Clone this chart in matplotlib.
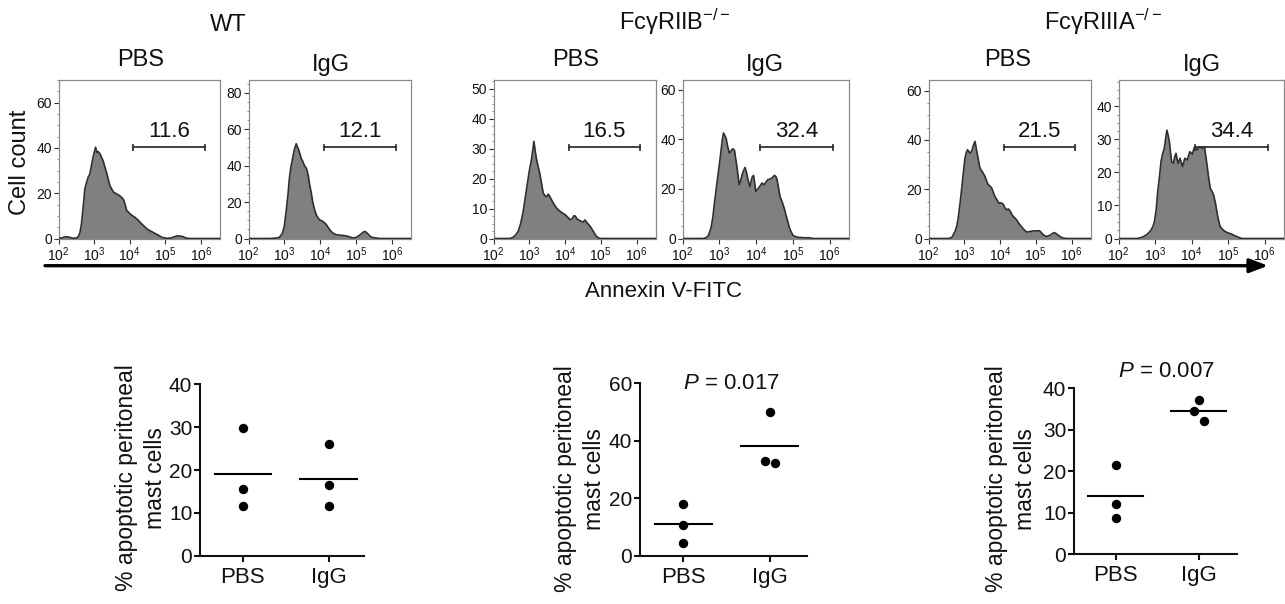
import matplotlib
matplotlib.use('Agg')
import matplotlib.pyplot as plt
import numpy as np
from matplotlib.ticker import FixedLocator, FixedFormatter, LogLocator, NullFormatter, MultipleLocator, AutoMinorLocator
from matplotlib.transforms import blended_transform_factory, offset_copy
from matplotlib.patches import FancyArrowPatch

plt.rcParams['font.family'] = ['Liberation Sans', 'DejaVu Sans']
plt.rcParams['mathtext.fontset'] = 'custom'
plt.rcParams['mathtext.rm'] = 'Liberation Sans'
plt.rcParams['mathtext.it'] = 'Liberation Sans:italic'
plt.rcParams['mathtext.bf'] = 'Liberation Sans:bold'

# ---------------- data ----------------
genotypes = ['WT', 'Fc\u03b3RIIB$^{\u2212/\u2212}$', 'Fc\u03b3RIIIA$^{\u2212/\u2212}$']
treatments = ['PBS', 'IgG']
decade_labels = [r'$10^{2}$', r'$10^{3}$', r'$10^{4}$', r'$10^{5}$', r'$10^{6}$']
decades = [1e2, 1e3, 1e4, 1e5, 1e6]

# histogram curves: (log10 Annexin V-FITC, cell count)
wt_pbs_hist = [(2.0,0),(2.1,0.3),(2.2,0.8),(2.3,0.6),(2.4,0.1),(2.5,0.2),(2.55,0.7),(2.6,2.5),(2.64,6),
    (2.7,15),(2.74,22),(2.8,25.5),(2.83,27),(2.88,28.5),(2.91,31),(2.97,36),(3.04,40.3),(3.08,38),(3.11,38.4),
    (3.16,37.5),(3.25,34.4),(3.35,29),(3.44,23.4),(3.54,20.5),(3.62,19.8),(3.68,19.3),(3.76,18.3),(3.82,17.3),
    (3.87,15),(3.91,12.5),(4.0,11),(4.05,10.3),(4.15,9.3),(4.24,8),(4.33,6.5),(4.43,5),(4.52,3.8),(4.62,3),
    (4.71,2.2),(4.80,1.5),(4.88,0.7),(4.95,0.3),(5.05,0.1),(5.15,0.2),(5.25,0.8),(5.32,1.1),(5.4,1.1),
    (5.48,0.9),(5.56,0.3),(5.65,0),(6.55,0)]
wt_igg_hist = [(2.0,0),(2.6,0),(2.75,0.2),(2.86,0.6),(2.95,3),(3.0,7),(3.05,15),(3.1,24),(3.14,33),(3.18,39),
    (3.23,44),(3.28,49),(3.33,52),(3.37,50),(3.40,48.6),(3.44,46),(3.47,44),(3.52,42),(3.56,40),(3.60,39),
    (3.63,37.6),(3.67,34),(3.70,30),(3.75,25),(3.79,20),(3.84,16),(3.89,13),(3.94,11.2),(3.98,10.3),(4.07,9.4),
    (4.12,8.6),(4.17,7.6),(4.23,5.8),(4.30,3.9),(4.37,2.8),(4.44,2.1),(4.55,1.8),(4.63,1.7),(4.70,1.5),
    (4.77,1.2),(4.85,0.7),(4.91,0.3),(5.0,0.6),(5.07,1.4),(5.14,2.5),(5.2,3.5),(5.24,3.9),(5.28,3.4),
    (5.33,2.5),(5.38,1.5),(5.42,0.8),(5.5,0.4),(5.56,0.3),(5.65,0),(6.55,0)]
riib_pbs_hist = [(2.0,0),(2.45,0),(2.55,0.4),(2.62,1.2),(2.69,2.4),(2.76,5),(2.83,9),(2.88,13),(2.93,17),
    (3.0,22.5),(3.07,27),(3.13,32.5),(3.17,29),(3.21,26),(3.26,23.5),(3.30,21.4),(3.35,18),(3.39,15.2),
    (3.44,14.3),(3.49,14),(3.53,14.8),(3.56,14.4),(3.62,13),(3.67,11.9),(3.72,11),(3.76,10.2),(3.81,9.6),
    (3.86,9.1),(3.93,8.5),(4.00,8),(4.07,7.2),(4.14,6.3),(4.2,6.6),(4.25,7.6),(4.29,7.5),(4.33,6.6),
    (4.37,6.3),(4.44,5.8),(4.51,5.5),(4.56,6.2),(4.60,5.5),(4.65,4.8),(4.70,4.1),(4.75,3.2),(4.79,2.4),
    (4.84,1.4),(4.88,0.7),(4.94,0.2),(5.0,0),(6.55,0)]
riib_igg_hist = [(2.0,0),(2.55,0),(2.63,0.2),(2.7,1.2),(2.77,4.2),(2.82,8.5),(2.86,13.7),(2.9,18.5),
    (2.95,24.4),(3.0,30),(3.04,35),(3.08,40),(3.11,42.6),(3.15,41.5),(3.18,40.6),(3.22,37.5),(3.27,34.5),
    (3.30,35),(3.34,35.9),(3.37,36.2),(3.41,35.6),(3.44,32.5),(3.47,29.8),(3.51,25),(3.54,21.7),(3.58,23.5),
    (3.62,25.8),(3.66,27.5),(3.70,28.7),(3.74,26.5),(3.77,24.4),(3.80,22.5),(3.83,21),(3.86,23),(3.89,24.7),
    (3.93,25.5),(3.96,22.5),(3.99,19),(4.03,19.8),(4.07,20.4),(4.12,21.5),(4.16,22.4),(4.22,21.7),
    (4.27,22.8),(4.32,23.8),(4.38,24),(4.43,24.4),(4.50,25.5),(4.54,25),(4.57,23.8),(4.61,20.5),(4.65,17),
    (4.69,15.5),(4.72,14.3),(4.77,12),(4.81,9.6),(4.86,7),(4.91,4.2),(4.96,2.5),(5.00,1.3),(5.07,0.8),
    (5.13,0.5),(5.3,0.3),(5.45,0.3),(5.55,0),(6.55,0)]
riiia_pbs_hist = [(2.0,0),(2.55,0),(2.65,0.4),(2.74,2.8),(2.79,5),(2.83,8.2),(2.88,14),(2.93,20.4),(2.97,26),
    (3.02,32.6),(3.06,35),(3.09,36),(3.12,35.5),(3.16,34.6),(3.19,35),(3.22,36),(3.26,38),(3.30,39.4),
    (3.33,37),(3.36,34.6),(3.40,31.5),(3.44,28.5),(3.50,27.2),(3.54,26.2),(3.58,25.2),(3.62,23.5),(3.67,21.8),
    (3.72,21.3),(3.77,20.4),(3.81,18.8),(3.86,17),(3.92,15.5),(3.97,14.3),(4.03,14.5),(4.09,13.9),(4.13,12.6),
    (4.18,11.6),(4.23,12),(4.28,11.2),(4.33,9.8),(4.37,8.9),(4.42,8.3),(4.46,7.6),(4.51,6.5),(4.56,5.5),
    (4.60,4.8),(4.65,3.9),(4.70,3.2),(4.74,2.6),(4.79,2.7),(4.83,2.8),(4.90,3),(4.97,3.1),(5.04,3.1),
    (5.11,3.1),(5.16,2.3),(5.21,1.5),(5.26,1.1),(5.30,0.8),(5.36,1.1),(5.42,1.5),(5.47,2.1),(5.52,2.4),
    (5.57,2),(5.61,1.5),(5.67,0.9),(5.72,0.4),(5.8,0.1),(5.86,0),(6.55,0)]
riiia_igg_hist = [(2.0,0),(2.5,0),(2.62,0.3),(2.7,0.7),(2.76,1.1),(2.83,1.8),(2.89,2.6),(2.94,3.7),(2.98,5.1),
    (3.03,9),(3.07,14.2),(3.12,19),(3.16,23.3),(3.2,25.5),(3.25,27.3),(3.29,30.5),(3.32,32.8),(3.35,31.5),
    (3.39,29.3),(3.42,26),(3.45,23.3),(3.50,22.8),(3.53,24.5),(3.57,25.8),(3.60,24),(3.63,22.8),(3.68,24.3),
    (3.71,23.2),(3.75,21.8),(3.78,23),(3.81,24.3),(3.85,24),(3.88,23.8),(3.92,25.3),(3.95,26.3),(4.02,25.5),
    (4.05,26.8),(4.08,27.8),(4.12,27.2),(4.15,26.8),(4.18,27.3),(4.22,27.8),(4.29,27.3),(4.35,27.8),
    (4.38,25.5),(4.42,22.3),(4.46,18.8),(4.51,15.2),(4.56,14.2),(4.60,13.2),(4.65,10.8),(4.69,8.2),
    (4.73,5.8),(4.78,3.6),(4.85,2.7),(4.92,2.1),(5.00,1.7),(5.10,1.3),(5.17,0.9),(5.23,0.6),(5.30,0.3),
    (5.37,0),(6.55,0)]

hist_curves = [wt_pbs_hist, wt_igg_hist, riib_pbs_hist, riib_igg_hist, riiia_pbs_hist, riiia_igg_hist]
hist_ymax = [70, 87, 53, 64, 64.3, 48]
hist_ystep = [20, 20, 10, 20, 20, 10]
gate_percent = ['11.6', '12.1', '16.5', '32.4', '21.5', '34.4']
gate_range = (10**4.1, 10**6.1)

# % apoptotic peritoneal mast cells (3 mice per group)
wt_pbs_pts = [29.9, 15.6, 11.5]
wt_igg_pts = [26.1, 16.4, 11.5]
riib_pbs_pts = [18.0, 10.7, 4.5]
riib_igg_pts = [49.9, 32.9, 32.2]
riiia_pbs_pts = [21.4, 12.1, 8.6]
riiia_igg_pts = [37.2, 34.5, 32.0]
p_values = [None, '0.017', '0.007']
scatter_ylim = [40, 60, 40]
scatter_ystep = [10, 20, 10]

# ---------------- figure ----------------
W, H = 1285, 604
fig = plt.figure(figsize=(W / 100, H / 100), dpi=100)


def rect(x0, x1, y0, y1):
    return [x0 / W, 1 - y1 / H, (x1 - x0) / W, (y1 - y0) / H]


def fx(x):
    return x / W


def fy(y):
    return 1 - y / H


hist_boxes = [(58.5, 220, 80, 238.5), (248.5, 411, 80, 238.5),
              (493.5, 655.5, 80, 238.5), (682.7, 849, 80, 238.5),
              (928.5, 1090.5, 80, 238.5), (1118.7, 1284, 80, 238.5)]

for i, (box, curve) in enumerate(zip(hist_boxes, hist_curves)):
    ax = fig.add_axes(rect(*box))
    lx = np.array([p[0] for p in curve])
    cnt = np.array([p[1] for p in curve])
    x = 10 ** lx
    ax.set_xscale('log')
    ax.set_xlim(1e2, 10 ** 6.53)
    ax.set_ylim(0, hist_ymax[i])
    ax.fill_between(x, 0, cnt, color='#808080', lw=0, zorder=2)
    ax.plot(x, cnt, color='#2e2e2e', lw=1.2, zorder=3)
    for s in ax.spines.values():
        s.set_color('#8a8a8a')
        s.set_linewidth(0.9)
    ax.xaxis.set_major_locator(FixedLocator(decades))
    ax.xaxis.set_major_formatter(FixedFormatter(decade_labels))
    ax.xaxis.set_minor_locator(LogLocator(base=10, subs=np.arange(2, 10)))
    ax.xaxis.set_minor_formatter(NullFormatter())
    ax.yaxis.set_major_locator(MultipleLocator(hist_ystep[i]))
    ax.yaxis.set_minor_locator(AutoMinorLocator(4))
    ax.tick_params(axis='both', which='major', direction='out', length=3.5, width=0.8,
                   color='#333333', labelsize=10, pad=1.2, labelcolor='#111111')
    ax.tick_params(axis='both', which='minor', direction='out', length=1.8, width=0.6, color='#777777')
    # gate
    tr = blended_transform_factory(ax.transData, ax.transAxes)
    gy = 0.575
    ax.plot(gate_range, [gy, gy], color='#333333', lw=1.3, transform=tr, clip_on=False, zorder=4)
    for gx in gate_range:
        ax.plot([gx, gx], [gy - 0.018, gy + 0.018], color='#333333', lw=1.3, transform=tr,
                clip_on=False, zorder=4)
    gmid = np.sqrt(gate_range[0] * gate_range[1])
    ax.text(gmid, gy, gate_percent[i], transform=offset_copy(tr, fig=fig, x=0, y=5, units='dots'),
            ha='center', va='bottom', fontsize=16, color='#111111')

# column titles
group_title_pos = [(228, 25), (675, 22), (1103, 22)]
for t, (x, y) in zip(genotypes, group_title_pos):
    fig.text(fx(x), fy(y), t, ha='center', va='center', fontsize=17, color='#111111')

treat_pos = [(141, 66.5), (331, 71), (576, 66.5), (765, 71), (1008, 66.5), (1202, 71)]
for k, (x, y) in enumerate(treat_pos):
    fig.text(fx(x), fy(y), treatments[k % 2], ha='center', va='baseline', fontsize=17, color='#111111')

fig.text(fx(20), fy(162), 'Cell count', rotation=90, ha='center', va='center', fontsize=17,
         color='#111111')

arrow = FancyArrowPatch((fx(45), fy(265.7)), (fx(1268), fy(265.7)), transform=fig.transFigure,
                        arrowstyle='-|>,head_length=1.1,head_width=0.42', mutation_scale=10,
                        lw=2.4, color='black', shrinkA=0, shrinkB=0)
fig.add_artist(arrow)
fig.text(fx(663), fy(291.5), 'Annexin V-FITC', ha='center', va='center', fontsize=16, color='#111111')

# ---------------- scatter panels ----------------
scatter_boxes = [(200, 364, 384.3, 555.7), (640, 807, 383.3, 555.7), (1074, 1237, 388.3, 554)]
scatter_xr = [1.41, 1.43, 1.46]
scatter_groups = [(wt_pbs_pts, wt_igg_pts), (riib_pbs_pts, riib_igg_pts), (riiia_pbs_pts, riiia_igg_pts)]
ylabel_pos = [(141, 478), (580, 479), (1011, 479)]
p_pos = [None, (731.7, 383.3), (1166.7, 371.7)]


def dodge(vals, thr):
    order = sorted(range(len(vals)), key=lambda i: -vals[i])
    clusters = []
    for i in order:
        if clusters and vals[clusters[-1][-1]] - vals[i] < thr:
            clusters[-1].append(i)
        else:
            clusters.append([i])
    offs = [0.0] * len(vals)
    for c in clusters:
        n = len(c)
        if n == 1:
            continue
        if n % 2:
            pattern = [0] + [s * k for k in range(1, n // 2 + 1) for s in (-1, 1)]
        else:
            pattern = [s * (2 * k - 1) for k in range(1, n // 2 + 1) for s in (-1, 1)]
        for idx, p in zip(c, pattern):
            offs[idx] = p
    return offs


for j, box in enumerate(scatter_boxes):
    ax = fig.add_axes(rect(*box))
    ax.set_xlim(-0.5, scatter_xr[j])
    ax.set_ylim(0, scatter_ylim[j])
    px_per_unit = (box[1] - box[0]) / (scatter_xr[j] + 0.5)
    u = 5.0 / px_per_unit
    for g, vals in enumerate(scatter_groups[j]):
        offs = dodge(vals, 0.08 * scatter_ylim[j])
        xs = [g + o * u for o in offs]
        ax.scatter(xs, vals, s=46, color='black', linewidths=0, zorder=3, clip_on=False)
        m = float(np.mean(vals))
        ax.plot([g - 0.33, g + 0.33], [m, m], color='black', lw=1.5, zorder=2)
    for side in ('top', 'right'):
        ax.spines[side].set_visible(False)
    for side in ('left', 'bottom'):
        ax.spines[side].set_linewidth(1.5)
        ax.spines[side].set_color('#111111')
    ax.set_xticks([0, 1])
    ax.set_xticklabels(treatments)
    ax.yaxis.set_major_locator(MultipleLocator(scatter_ystep[j]))
    ax.tick_params(axis='y', direction='out', length=4.5, width=1.5, labelsize=15, pad=1,
                   color='#111111', labelcolor='#111111')
    ax.tick_params(axis='x', direction='out', length=4, width=1.5, labelsize=16, pad=4,
                   color='#111111', labelcolor='#111111')
    x, y = ylabel_pos[j]
    fig.text(fx(x), fy(y), '% apoptotic peritoneal\nmast cells', rotation=90, ha='center',
             va='center', multialignment='center', fontsize=16.5, linespacing=1.38, color='#111111')
    if p_values[j] is not None:
        x, y = p_pos[j]
        fig.text(fx(x), fy(y), r'$P$ = ' + p_values[j], ha='center', va='center', fontsize=16,
                 color='#111111')

fig.savefig('out.png', dpi=100)
